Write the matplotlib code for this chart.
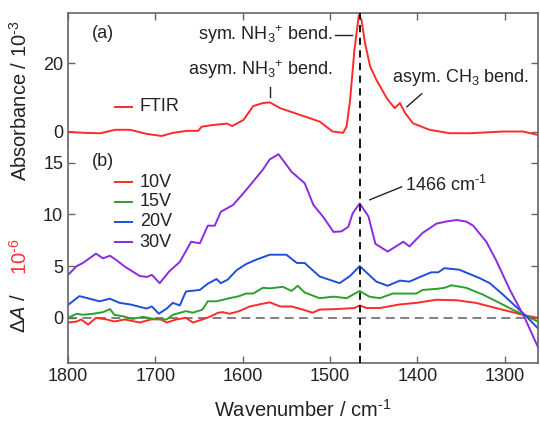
import numpy as np
import matplotlib
matplotlib.use("Agg")
import matplotlib.pyplot as plt

plt.rcParams["font.family"] = ["Liberation Sans", "DejaVu Sans"]
plt.rcParams["mathtext.fontset"] = "custom"
plt.rcParams["mathtext.rm"] = "Liberation Sans"
plt.rcParams["mathtext.it"] = "Liberation Sans:italic"

# (a) FTIR absorbance / 1e-3
ftir_wn = [1800, 1780, 1763, 1746, 1729, 1710, 1693, 1680, 1664, 1651, 1647, 1634,
           1618, 1612, 1599, 1588, 1577, 1569, 1557, 1535, 1512, 1497, 1485, 1481,
           1477, 1472, 1467, 1464, 1460, 1454, 1447, 1435, 1426, 1420, 1414, 1405,
           1386, 1363, 1340, 1302, 1279, 1262]
ftir_abs = [0.0, -0.3, -0.4, 0.6, 0.6, -0.6, -1.2, -0.3, 0.3, 0.3, 1.5, 2.0,
            2.4, 1.7, 3.5, 7.5, 8.4, 8.6, 6.9, 5.0, 3.0, 0.1, -0.3, 1.6,
            9.3, 24.0, 34.0, 32.7, 26.0, 19.0, 15.2, 9.8, 6.9, 8.4, 5.5, 2.5,
            0.6, -0.4, -0.4, 0.1, 0.1, -0.9]

# (b) Delta A / 1e-6 for each voltage
v30_wn = [1800, 1790, 1783, 1768, 1760, 1752, 1745, 1735, 1718, 1710, 1704, 1695,
          1684, 1672, 1659, 1649, 1640, 1632, 1625, 1611, 1596, 1577, 1569, 1559,
          1544, 1529, 1519, 1508, 1496, 1487, 1479, 1474, 1466, 1456, 1448, 1434,
          1416, 1409, 1394, 1378, 1367, 1355, 1344, 1336, 1321, 1310, 1294, 1277, 1262]
v30 = [4.15, 5.0, 5.3, 6.2, 5.75, 6.0, 5.6, 4.95, 4.05, 3.95, 4.15, 3.35,
       4.5, 5.4, 7.35, 7.2, 8.9, 8.9, 10.25, 10.9, 12.35, 14.3, 15.3, 15.8,
       14.1, 13.0, 10.9, 9.77, 8.3, 8.35, 8.8, 10.1, 11.05, 9.8, 7.15, 6.4,
       7.35, 6.9, 8.2, 9.1, 9.3, 9.45, 9.3, 8.9, 7.35, 5.6, 2.7, 0.0, -2.8]

v20_wn = [1800, 1787, 1773, 1764, 1752, 1741, 1729, 1710, 1704, 1696, 1687, 1680,
          1672, 1665, 1649, 1640, 1630, 1625, 1617, 1607, 1596, 1585, 1569, 1550,
          1538, 1529, 1512, 1489, 1477, 1466, 1447, 1434, 1420, 1409, 1397, 1384,
          1376, 1369, 1352, 1329, 1317, 1302, 1277, 1262]
v20 = [1.25, 2.1, 1.8, 1.6, 1.85, 1.45, 1.3, 0.9, 1.1, 0.4, 0.9, 1.45,
       1.2, 2.55, 2.7, 3.3, 3.75, 3.35, 3.7, 4.6, 5.2, 5.6, 6.1, 6.1,
       5.3, 5.3, 4.0, 3.35, 4.05, 5.0, 3.5, 3.1, 3.6, 3.5, 3.95, 4.4,
       4.4, 4.8, 4.65, 3.85, 3.35, 2.25, 0.3, -1.0]

v15_wn = [1800, 1790, 1783, 1771, 1760, 1752, 1747, 1737, 1726, 1714, 1699, 1687,
          1680, 1665, 1657, 1646, 1640, 1630, 1615, 1604, 1596, 1588, 1577, 1569,
          1554, 1544, 1537, 1529, 1512, 1496, 1481, 1466, 1455, 1443, 1428, 1401,
          1394, 1378, 1369, 1361, 1344, 1325, 1306, 1291, 1277, 1262]
v15 = [0.0, 0.4, 0.3, 0.4, 0.55, 0.85, 0.3, 0.15, -0.1, 0.1, -0.15, -0.15,
       0.3, 0.65, 0.5, 0.8, 1.6, 1.6, 1.9, 2.1, 2.35, 2.35, 2.9, 2.85,
       3.0, 2.6, 3.1, 2.45, 1.9, 2.05, 1.9, 2.6, 2.05, 1.9, 2.35, 2.35,
       2.7, 2.8, 2.9, 3.15, 2.9, 2.25, 1.45, 0.8, 0.25, -0.35]

v10_wn = [1800, 1790, 1785, 1777, 1768, 1756, 1747, 1735, 1718, 1705, 1695, 1687,
          1676, 1665, 1657, 1646, 1638, 1628, 1623, 1615, 1604, 1592, 1581, 1569,
          1557, 1544, 1531, 1520, 1512, 1493, 1472, 1466, 1458, 1443, 1420, 1401,
          1378, 1355, 1333, 1310, 1291, 1277, 1262]
v10 = [-0.45, -0.35, -0.15, -0.65, 0.0, -0.15, -0.35, -0.15, -0.45, -0.15, -0.1, -0.45,
       -0.15, 0.0, -0.45, -0.15, 0.1, 0.5, 0.55, 0.4, 0.65, 1.1, 1.3, 1.5,
       1.1, 1.1, 0.8, 0.5, 0.8, 0.85, 0.95, 1.2, 0.95, 0.95, 1.3, 1.45,
       1.75, 1.7, 1.45, 0.95, 0.55, 0.25, 0.0]

labels = ["10V", "15V", "20V", "30V"]
colors = ["#ff2a2a", "#2ca02c", "#1f4fd8", "#8a2be2"]
peak_wn = 1466

axis_col = "#666666"
text_col = "#222222"
fs_tick = 13
fs_lab = 14.5
fs_ann = 13

fig = plt.figure(figsize=(5.4, 4.23), dpi=100)
ax1 = fig.add_axes([0.126, 0.655, 0.870, 0.314])
ax2 = fig.add_axes([0.126, 0.142, 0.870, 0.513])

for ax in (ax1, ax2):
    ax.set_xlim(1800, 1262)
    for s in ax.spines.values():
        s.set_color(axis_col)
        s.set_linewidth(1.2)
    ax.tick_params(direction="in", length=5, width=1, color=axis_col,
                   labelsize=fs_tick, labelcolor=text_col, right=True)
    ax.set_xticks([1800, 1700, 1600, 1500, 1400, 1300])
    ax.axvline(peak_wn, color="black", lw=1.3, ls=(0, (4, 3)), zorder=5)

ax1.spines["bottom"].set_visible(False)
ax2.spines["top"].set_visible(False)
ax1.tick_params(top=True, bottom=False, labelbottom=False)
ax2.tick_params(top=False)
ax1.set_ylim(-4.1, 34.6)
ax1.set_yticks([0, 20])
ax2.set_ylim(-4.35, 16.6)
ax2.set_yticks([0, 5, 10, 15])

nh3 = r"NH$_3{}^{\text{+}}$"

# panel (a)
ax1.plot(ftir_wn, ftir_abs, color=colors[0], lw=1.4)
ax1.text(1760, 28.8, "(a)", fontsize=fs_ann, color=text_col, ha="center", va="center")
ax1.text(1497, 28.2, "sym. " + nh3 + " bend.", fontsize=fs_ann, color=text_col,
         ha="right", va="center")
ax1.plot([1494, 1475], [28.2, 28.2], color=text_col, lw=1)
ax1.text(1580, 18.0, "asym. " + nh3 + " bend.", fontsize=fs_ann, color=text_col,
         ha="center", va="center")
ax1.plot([1569, 1569], [13.1, 10.2], color=text_col, lw=1)
ax1.text(1351, 15.7, r"asym. CH$_3$ bend.", fontsize=fs_ann, color=text_col,
         ha="center", va="center")
ax1.plot([1412, 1395], [7.3, 11.1], color=text_col, lw=1)
ax1.plot([1746, 1727], [7.3, 7.3], color=colors[0], lw=1.4)
ax1.text(1718, 7.3, "FTIR", fontsize=fs_ann, color=text_col, va="center")

# panel (b)
ax2.axhline(0, color="#777777", lw=1.3, ls=(0, (5, 3)), zorder=1)
series = [(v10_wn, v10), (v15_wn, v15), (v20_wn, v20), (v30_wn, v30)]
leg_y = [13.1, 11.2, 9.3, 7.3]
for (wn, val), lab, c, ly in zip(series, labels, colors, leg_y):
    ax2.plot(wn, val, color=c, lw=1.4)
    ax2.plot([1746, 1727], [ly, ly], color=c, lw=1.4)
    ax2.text(1718, ly, lab, fontsize=fs_ann, color=text_col, va="center")
ax2.text(1760, 15.1, "(b)", fontsize=fs_ann, color=text_col, ha="center", va="center")
ax2.text(1414, 12.85, r"1466 cm$^{\text{-}1}$", fontsize=fs_ann, color=text_col, va="center")
ax2.plot([1454.5, 1418], [11.4, 12.65], color=text_col, lw=1)

ax2.set_xlabel(r"Wavenumber / cm$^{\text{-}1}$", fontsize=fs_lab, color=text_col, labelpad=10)

fig.text(0.037, 0.762, r"Absorbance / 10$^{\text{-}3}$", rotation=90, fontsize=fs_lab,
         color=text_col, ha="center", va="center")
fig.text(0.037, 0.213, r"Δ$A$ /", rotation=90, fontsize=fs_lab,
         color=text_col, ha="center", va="bottom")
fig.text(0.037, 0.35, r"10$^{\text{-}6}$", rotation=90, fontsize=fs_lab,
         color="#ff3030", ha="center", va="bottom")

fig.savefig("out.png", dpi=100)
